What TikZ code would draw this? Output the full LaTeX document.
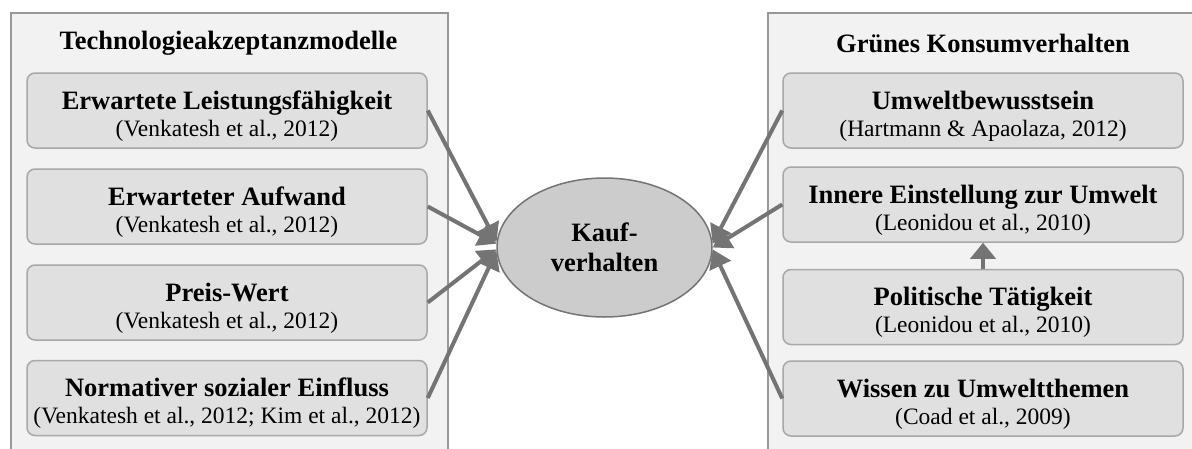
\documentclass[tikz,border=0pt]{standalone}
\usepackage{fontspec}
\setmainfont{Liberation Serif}
\usetikzlibrary{arrows.meta,shapes.geometric}

\definecolor{panelfill}{HTML}{F2F2F2}
\definecolor{panelline}{HTML}{999999}
\definecolor{boxfill}{HTML}{E0E0E0}
\definecolor{boxline}{HTML}{A8A8A8}
\definecolor{ellfill}{HTML}{CCCCCC}
\definecolor{arrowgray}{HTML}{747474}

\newcommand\headfont{\fontsize{26.5}{30}\bfseries\selectfont}
\newcommand\citefont{\fontsize{23.5}{27}\selectfont}
% two-line entry: bold factor name above its citation, set a little low in the box
\newcommand\entrytext[2]{\parbox{398pt}{\centering\vspace*{11pt}{\headfont #1}\par{\citefont #2}\par}}

\begin{document}
\begin{tikzpicture}[x=1pt,y=-1pt,
  panel/.style={draw=panelline, fill=panelfill, line width=2pt,
    minimum width=437pt, minimum height=480pt, anchor=north west, inner sep=0pt},
  heading/.style={font=\headfont, inner sep=0pt},
  factor/.style={draw=boxline, fill=boxfill, line width=1.5pt, rounded corners=8pt,
    minimum width=400pt, minimum height=75pt, inner sep=0pt,
    font=\citefont},
  target/.style={ellipse, draw=arrowgray, fill=ellfill, line width=1.5pt,
    minimum width=215pt, minimum height=139pt, inner sep=0pt, align=center,
    font=\headfont},
  conn/.style={draw=arrowgray, line width=4pt,
    -{Triangle[length=18pt,width=23pt]}, shorten >=0pt}
]
\useasboundingbox (0,0) rectangle (1192,448);
\clip (0,0) rectangle (1192,448);

% background panels
\node[panel] (lp) at (10,12) {};
\node[panel] (rp) at (767,12) {};

% panel headings
\node[heading] (lh) at (228.5,43) {Technologieakzeptanzmodelle};
\node[heading] (rh) at (983,43) {Grünes Konsumverhalten};

% technology acceptance factors
\node[factor] (l1) at (227,110.5) {\entrytext{Erwartete Leistungsfähigkeit}{(Venkatesh et al., 2012)}};
\node[factor] (l2) at (227,206.5) {\entrytext{Erwarteter Aufwand}{(Venkatesh et al., 2012)}};
\node[factor] (l3) at (227,302.5) {\entrytext{Preis-Wert}{(Venkatesh et al., 2012)}};
\node[factor] (l4) at (227,398) {\entrytext{Normativer sozialer Einfluss}{(Venkatesh et al., 2012; Kim et al., 2012)}};

% green consumption factors
\node[factor] (r1) at (983,110.5) {\entrytext{Umweltbewusstsein}{(Hartmann \& Apaolaza, 2012)}};
\node[factor] (r2) at (983,204.5) {\entrytext{Innere Einstellung zur Umwelt}{(Leonidou et al., 2010)}};
\node[factor] (r3) at (983,307) {\entrytext{Politische Tätigkeit}{(Leonidou et al., 2010)}};
\node[factor] (r4) at (983,398.5) {\entrytext{Wissen zu Umweltthemen}{(Coad et al., 2009)}};

% central construct
\node[target] (kv) at (604.5,247.5) {Kauf-\\verhalten};

% influences
\draw[conn] (l1.east) -- (kv.177.6);
\draw[conn] (l2.east) -- (kv.178.2);
\draw[conn] (l3.east) -- (kv.181.4);
\draw[conn] (l4.east) -- (kv.182.9);
\draw[conn] (r1.west) -- (kv.2.4);
\draw[conn] (r2.west) -- (kv.0.8);
\draw[conn] (r4.west) -- (kv.-1.3);
\draw[conn, -{Triangle[length=16pt,width=25pt]}] (r3.north) -- (r2.south);
\end{tikzpicture}
\end{document}
